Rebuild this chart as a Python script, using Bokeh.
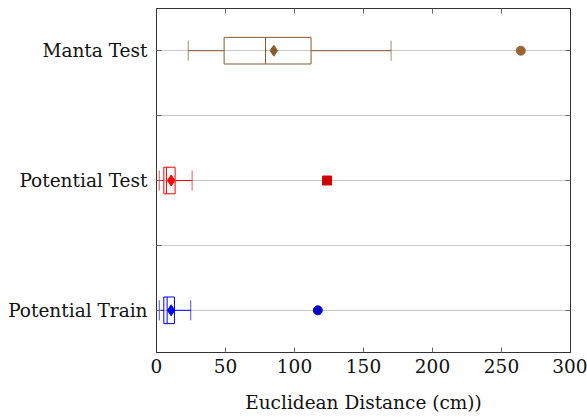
from bokeh.plotting import figure
from bokeh.models import Range1d, FixedTicker, LinearAxis
from bokeh.embed import file_html
from bokeh.resources import INLINE

# Data (cm)
categories = ["Potential Train", "Potential Test", "Manta Test"]
positions = [1, 2, 3]
whisker_low = [2.0, 2.0, 23.0]
q1 = [5.3, 5.3, 49.0]
median = [7.7, 7.2, 79.0]
q3 = [13.0, 13.5, 112.0]
whisker_high = [24.8, 25.8, 170.0]
mean = [10.6, 10.6, 85.0]
outlier = [116.9, 123.6, 264.0]

colors = ["#0000FF", "#FF0000", "#8B5A2B"]
outlier_colors = ["#0000CC", "#CC0000", "#9B6430"]
outlier_markers = ["circle", "square", "circle"]

x_ticks = [0, 50, 100, 150, 200, 250, 300]

FONT = "DejaVu Serif"
FS = "18.5px"

p = figure(width=587, height=417, output_backend="svg", toolbar_location=None,
           x_range=Range1d(0, 300), y_range=Range1d(0.675, 3.325),
           min_border_left=156, min_border_right=17, min_border_top=8, min_border_bottom=65)

box_h = 0.205
cap_h = 0.155
for i in range(3):
    y = positions[i]
    c = colors[i]
    p.segment(x0=[whisker_low[i], q3[i]], y0=[y, y], x1=[q1[i], whisker_high[i]], y1=[y, y],
              line_color=c, line_width=1)
    p.segment(x0=[whisker_low[i], whisker_high[i]], y0=[y - cap_h / 2] * 2,
              x1=[whisker_low[i], whisker_high[i]], y1=[y + cap_h / 2] * 2,
              line_color=c, line_width=1, line_alpha=0.7)
    p.quad(left=[q1[i]], right=[q3[i]], bottom=[y - box_h / 2], top=[y + box_h / 2],
           fill_alpha=0, line_color=c, line_width=1)
    p.segment(x0=[median[i]], y0=[y - box_h / 2], x1=[median[i]], y1=[y + box_h / 2],
              line_color=c, line_width=1)
    p.scatter(x=[mean[i]], y=[y], marker="diamond", size=11, fill_color=c, line_color=c)
    p.scatter(x=[outlier[i]], y=[y], marker=outlier_markers[i], size=9,
              fill_color=outlier_colors[i], line_color=outlier_colors[i])

y_ticks = [1, 1.5, 2, 2.5, 3]
overrides = {1: "Potential Train", 1.5: "", 2: "Potential Test", 2.5: "", 3: "Manta Test"}

p.xgrid.visible = False
p.ygrid.ticker = FixedTicker(ticks=y_ticks)
p.ygrid.grid_line_color = "#c8c8c8"
p.ygrid.grid_line_width = 1

def style_axis(ax):
    ax.major_tick_in = 5
    ax.major_tick_out = 0
    ax.minor_tick_line_color = None
    ax.axis_line_color = "#333333"
    ax.major_tick_line_color = "#666666"
    ax.major_label_text_font = FONT
    ax.major_label_text_font_size = FS
    ax.major_label_text_color = "#111111"
    ax.axis_label_text_font = FONT
    ax.axis_label_text_font_size = FS
    ax.axis_label_text_font_style = "normal"
    ax.axis_label_text_color = "#111111"

xa = p.xaxis[0]
xa.ticker = FixedTicker(ticks=x_ticks)
xa.axis_label = "Euclidean Distance (cm))"
xa.major_label_standoff = 6
xa.axis_label_standoff = 16
style_axis(xa)

ya = p.yaxis[0]
ya.ticker = FixedTicker(ticks=y_ticks)
ya.major_label_overrides = overrides
ya.major_label_standoff = 9
style_axis(ya)

top = LinearAxis(ticker=FixedTicker(ticks=x_ticks),
                 major_label_overrides={t: "" for t in x_ticks})
style_axis(top)
top.major_label_standoff = 0
p.add_layout(top, "above")
right = LinearAxis(ticker=FixedTicker(ticks=y_ticks),
                   major_label_overrides={t: "" for t in y_ticks})
style_axis(right)
right.major_label_standoff = 0
p.add_layout(right, "right")

p.outline_line_color = "#333333"

open("out.html", "w").write(file_html(p, INLINE))
